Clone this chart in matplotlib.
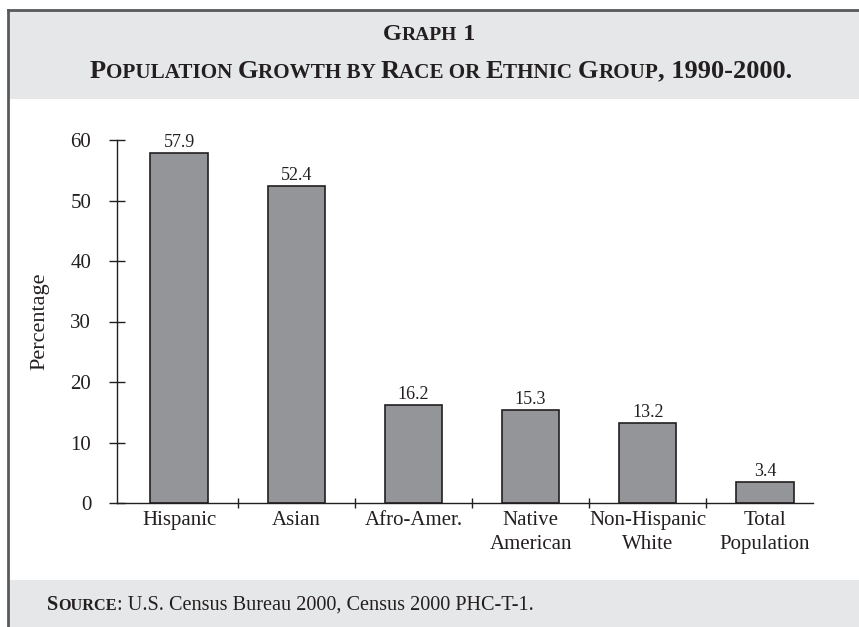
import matplotlib.pyplot as plt
from matplotlib.patches import Rectangle
from matplotlib.lines import Line2D
from matplotlib.offsetbox import TextArea, HPacker, AnchoredOffsetbox

# growth in percent, 1990-2000
groups = ["Hispanic", "Asian", "Afro-Amer.", "Native\nAmerican",
          "Non-Hispanic\nWhite", "Total\nPopulation"]
growth = [57.9, 52.4, 16.2, 15.3, 13.2, 3.4]
yticks = [0, 10, 20, 30, 40, 50, 60]

ink = '#231f20'
band = '#e6e7e8'
plt.rcParams['font.family'] = ['Liberation Serif', 'DejaVu Serif']
plt.rcParams['text.color'] = ink

W, H = 859, 627
fig = plt.figure(figsize=(W / 100, H / 100), dpi=100)


def fx(px):
    return px / W


def fy(px):
    return 1 - px / H


# header / footer bands and frame
fig.patches.append(Rectangle((fx(8), fy(99)), 1 - fx(8), fy(10) - fy(99),
                             transform=fig.transFigure, facecolor=band,
                             edgecolor='none', zorder=0))
fig.patches.append(Rectangle((fx(8), 0), 1 - fx(8), fy(580),
                             transform=fig.transFigure, facecolor=band,
                             edgecolor='none', zorder=0))
fig.add_artist(Line2D([fx(8), fx(8)], [0, fy(10)], color='#58595b', lw=2))
fig.add_artist(Line2D([fx(8), 1], [fy(10), fy(10)], color='#58595b', lw=2))


def small_caps(parts, size, weight='bold', ratio=0.8):
    boxes = []
    for txt, small, w in parts:
        boxes.append(TextArea(txt, textprops=dict(
            fontsize=size * ratio if small else size,
            fontweight=w or weight, color=ink)))
    return HPacker(children=boxes, align='baseline', pad=0, sep=0)


def place(box, x, y, loc):
    ab = AnchoredOffsetbox(loc=loc, child=box, bbox_to_anchor=(x, y),
                           bbox_transform=fig.transFigure, frameon=False,
                           pad=0, borderpad=0)
    fig.add_artist(ab)


title1 = [("G", False, None), ("RAPH", True, None), (" 1", False, None)]
title2 = [("P", False, None), ("OPULATION ", True, None), ("G", False, None),
          ("ROWTH BY ", True, None), ("R", False, None), ("ACE OR ", True, None),
          ("E", False, None), ("THNIC ", True, None), ("G", False, None),
          ("ROUP", True, None), (", 1990-2000.", False, None)]
source = [("S", False, 'bold'), ("OURCE", True, 'bold'),
          (": U.S. Census Bureau 2000, Census 2000 PHC-T-1.", False, 'normal')]

place(small_caps(title1, 17.5), fx(429), fy(35), 'center')
place(small_caps(title2, 19), fx(441), fy(71), 'center')
place(small_caps(source, 14.6), fx(47), fy(605), 'center left')

# bar chart
ax = fig.add_axes([fx(117), fy(503), fx(813) - fx(117), fy(140) - fy(503)])
ax.set_facecolor('none')
x = list(range(len(groups)))
ax.bar(x, growth, width=0.49, color='#939598', edgecolor=ink, linewidth=1.2)
for i, v in enumerate(growth):
    ax.annotate(f"{v}", (i, v), xytext=(0, 1.5), textcoords='offset points',
                ha='center', va='bottom', fontsize=13, color=ink)

ax.set_xlim(-0.53, 5.41)
ax.set_ylim(0, 60)
ax.set_yticks(yticks)
ax.tick_params(axis='y', direction='inout', length=11, width=1, pad=13,
               labelsize=15, colors=ink)

ax.set_xticks([i + 0.5 for i in x[:-1]])
ax.set_xticklabels([])
ax.tick_params(axis='x', which='major', direction='inout', length=7,
               width=1, colors=ink)
ax.set_xticks(x, minor=True)
ax.set_xticklabels(groups, minor=True, fontsize=15, linespacing=1.35)
ax.tick_params(axis='x', which='minor', length=0, pad=6, colors=ink)

for s in ['top', 'right']:
    ax.spines[s].set_visible(False)
for s in ['left', 'bottom']:
    ax.spines[s].set_color(ink)
    ax.spines[s].set_linewidth(1)

ax.set_ylabel("Percentage", fontsize=16, color=ink)
ax.yaxis.set_label_coords(-0.097, 0.5)

fig.savefig("out.png", dpi=100)
